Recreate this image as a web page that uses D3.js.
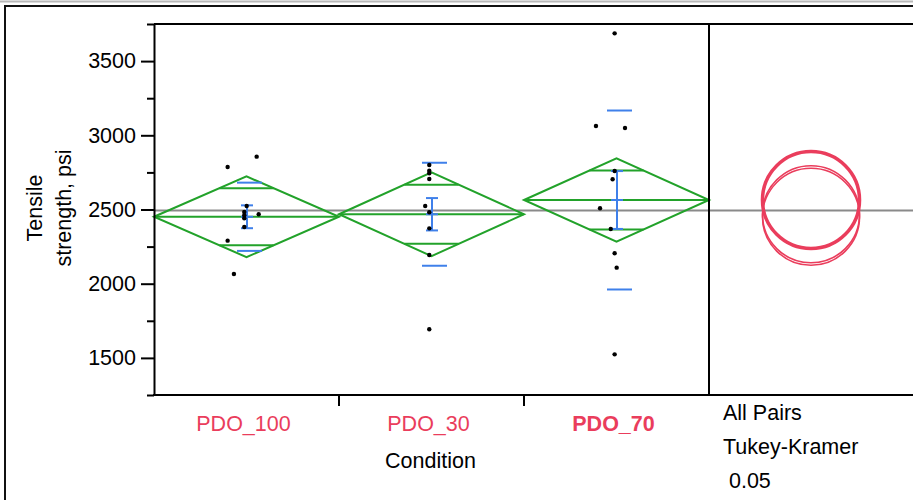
<!DOCTYPE html>
<html><head><meta charset="utf-8">
<script src="https://cdn.jsdelivr.net/npm/d3@7"></script>
<style>
body{margin:0;background:#fff;overflow:hidden;}
text{font-family:"Liberation Sans",Arial,sans-serif;font-size:21.5px;fill:#000;}
</style></head><body>
<svg width="913" height="500"></svg>
<script>
// groups and raw values (psi)
const categories = ["PDO_100", "PDO_30", "PDO_70"];
const pdo100 = [2856, 2786, 2524, 2483, 2461, 2441, 2468, 2382, 2290, 2065];
const pdo30 = [2800, 2761, 2744, 2706, 2524, 2481, 2373, 2193, 1693];
const pdo70 = [3687, 3063, 3049, 2759, 2704, 2508, 2369, 2205, 2108, 1524];
// jitter of each point, as a share of the group width
const jit100 = [0.055, -0.102, 0.001, -0.012, -0.012, -0.012, 0.066, -0.012, -0.102, -0.068];
const jit30 = [-0.012, -0.012, -0.012, -0.012, -0.034, -0.012, -0.012, -0.012, -0.012];
const jit70 = [-0.01, -0.111, 0.046, -0.01, -0.021, -0.089, -0.031, -0.01, 0.001, -0.01];

// group summaries
const means = [2451, 2468, 2564];
const ciHalf = [272, 282, 281];   // diamonds (95% CI)
const seHalf = [77, 109, 195];    // error bars
const sdHalf = [230, 347, 603];   // std dev lines
const grandMean = 2493;
const circleRadius = 327;
const selected = "PDO_70";

const yMajor = [1500, 2000, 2500, 3000, 3500];
const yMinor = [1250, 1750, 2250, 2750, 3250, 3750];
const compareText = ["All Pairs", "Tukey-Kramer", " 0.05"];

const groups = [pdo100, pdo30, pdo70];
const jitters = [jit100, jit30, jit70];

const green = "#22a22a", blue = "#3f80ea", red = "#ea3d5c";

const svg = d3.select("svg");
const W = 913;
const plotLeft = 154, groupsRight = 709, plotTop = 24, plotBottom = 395;

const x = d3.scaleBand().domain(categories).range([plotLeft, groupsRight]);
const y = d3.scaleLinear().domain([1250, 3750]).range([plotBottom, plotTop]);
const bw = x.bandwidth();
const cx = c => x(c) + bw / 2;

// outer frame
svg.append("line").attr("x1", 0).attr("x2", W).attr("y1", 1.5).attr("y2", 1.5)
  .attr("stroke", "#b8b8b8").attr("stroke-width", 2);
svg.append("path").attr("d", `M5,500 V6 H${W}`)
  .attr("fill", "none").attr("stroke", "#111").attr("stroke-width", 2);

// grand mean
svg.append("line")
  .attr("x1", plotLeft).attr("x2", W)
  .attr("y1", y(grandMean)).attr("y2", y(grandMean))
  .attr("stroke", "#8a8a8a").attr("stroke-width", 2);

const g = svg.append("g");

categories.forEach((c, i) => {
  const x0 = x(c), x1 = x(c) + bw, xc = cx(c);
  const m = means[i], ci = ciHalf[i];
  // diamond
  g.append("path")
    .attr("d", d3.line()([[x0, y(m)], [xc, y(m + ci)], [x1, y(m)], [xc, y(m - ci)]]) + "Z")
    .attr("fill", "none").attr("stroke", green).attr("stroke-width", 2);
  g.append("line").attr("x1", x0).attr("x2", x1).attr("y1", y(m)).attr("y2", y(m))
    .attr("stroke", green).attr("stroke-width", 2);
  // overlap marks
  const ov = ci / Math.SQRT2;
  const halfW = bw / 2 * (1 - 1 / Math.SQRT2);
  [m + ov, m - ov].forEach(v => {
    g.append("line").attr("x1", xc - halfW).attr("x2", xc + halfW)
      .attr("y1", y(v)).attr("y2", y(v))
      .attr("stroke", green).attr("stroke-width", 2);
  });
  // std dev lines
  [m + sdHalf[i], m - sdHalf[i]].forEach(v => {
    g.append("line").attr("x1", xc - 9.5).attr("x2", xc + 15.5)
      .attr("y1", y(v)).attr("y2", y(v))
      .attr("stroke", blue).attr("stroke-width", 2);
  });
  // error bar
  const ex = xc + 0.5;
  g.append("line").attr("x1", ex).attr("x2", ex)
    .attr("y1", y(m + seHalf[i])).attr("y2", y(m - seHalf[i]))
    .attr("stroke", blue).attr("stroke-width", 2);
  [m + seHalf[i], m, m - seHalf[i]].forEach(v => {
    g.append("line").attr("x1", ex - 6).attr("x2", ex + 6)
      .attr("y1", y(v)).attr("y2", y(v))
      .attr("stroke", blue).attr("stroke-width", 2);
  });
  // points
  g.append("g").selectAll("circle")
    .data(groups[i])
    .enter().append("circle")
    .attr("cx", (d, k) => xc + jitters[i][k] * bw)
    .attr("cy", d => y(d))
    .attr("r", 2.2)
    .attr("fill", "#000");
});

// comparison circles
const circX = (groupsRight + W) / 2;
const rPx = y(0) - y(circleRadius);
categories.forEach((c, i) => {
  svg.append("circle")
    .attr("cx", circX).attr("cy", y(means[i]))
    .attr("r", rPx)
    .attr("fill", "none").attr("stroke", red)
    .attr("stroke-width", c === selected ? 3.5 : 1.6);
});

// y axis
const yAxis = svg.append("g").attr("transform", `translate(${plotLeft},0)`)
  .call(d3.axisLeft(y).tickValues(yMajor).tickSize(13).tickSizeOuter(0).tickPadding(5).tickFormat(d3.format("d")));
yAxis.select(".domain").attr("stroke", "#000").attr("stroke-width", 2);
yAxis.selectAll(".tick line").attr("stroke", "#000").attr("stroke-width", 2);
yAxis.selectAll("text").style("font-size", "21.5px").attr("fill", "#000").attr("font-family", null);
const yMin = svg.append("g").attr("transform", `translate(${plotLeft},0)`)
  .call(d3.axisLeft(y).tickValues(yMinor).tickSize(7).tickSizeOuter(0).tickFormat(""));
yMin.select(".domain").remove();
yMin.selectAll(".tick line").attr("stroke", "#000").attr("stroke-width", 2);

// top border, panel divider, bottom axis line
svg.append("line").attr("x1", plotLeft).attr("x2", W).attr("y1", plotTop).attr("y2", plotTop)
  .attr("stroke", "#000").attr("stroke-width", 2);
svg.append("line").attr("x1", groupsRight).attr("x2", groupsRight).attr("y1", plotTop).attr("y2", plotBottom)
  .attr("stroke", "#000").attr("stroke-width", 2);
svg.append("line").attr("x1", plotLeft - 1).attr("x2", W).attr("y1", plotBottom).attr("y2", plotBottom)
  .attr("stroke", "#000").attr("stroke-width", 2);

// category boundary ticks
categories.slice(0, -1).forEach(c => {
  svg.append("line").attr("x1", x(c) + bw).attr("x2", x(c) + bw)
    .attr("y1", plotBottom).attr("y2", plotBottom + 11)
    .attr("stroke", "#000").attr("stroke-width", 2);
});

// category labels
svg.append("g").selectAll("text")
  .data(categories)
  .enter().append("text")
  .attr("x", d => cx(d) - 3)
  .attr("y", 431)
  .attr("text-anchor", "middle")
  .style("fill", red)
  .style("font-weight", d => d === selected ? "bold" : "normal")
  .text(d => d);

svg.append("text").attr("x", cx(categories[1]) - 1).attr("y", 468)
  .attr("text-anchor", "middle").text("Condition");

// y title
const yt = svg.append("text").attr("transform", "translate(0,208) rotate(-90)")
  .attr("text-anchor", "middle");
yt.append("tspan").attr("x", 0).attr("y", 42).text("Tensile");
yt.append("tspan").attr("x", 0).attr("y", 71).text("strength, psi");

// comparison text
svg.append("g").selectAll("text")
  .data(compareText)
  .enter().append("text")
  .attr("x", 723)
  .attr("y", (d, i) => 420 + i * 34)
  .attr("xml:space", "preserve")
  .style("white-space", "pre")
  .text(d => d);
</script>
</body></html>
